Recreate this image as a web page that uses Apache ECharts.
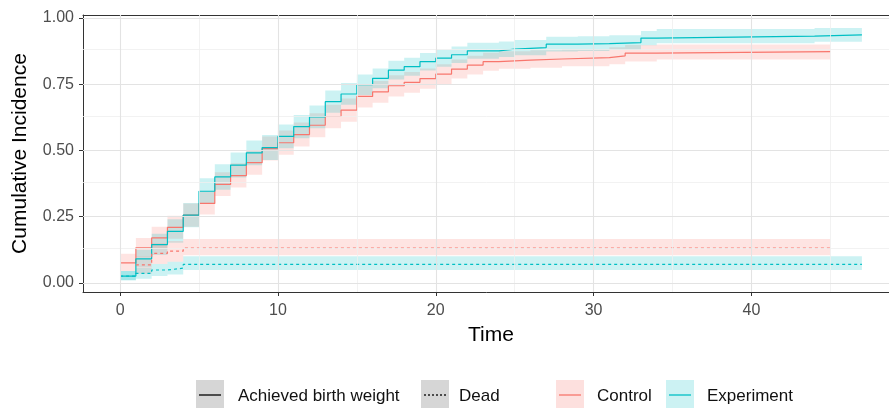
<!DOCTYPE html>
<html>
<head>
<meta charset="utf-8">
<script src="https://cdn.jsdelivr.net/npm/echarts@6/dist/echarts.min.js"></script>
<style>
  html, body { margin: 0; padding: 0; background: #fff; }
  #chart { width: 889px; height: 408px; }
</style>
</head>
<body>
<div id="chart"></div>
<script>
// tick values
var xTicks = [0, 10, 20, 30, 40];
var xMinor = [5, 15, 25, 35, 45];
var yTicks = [0, 0.25, 0.5, 0.75, 1];
var yMinor = [0.125, 0.375, 0.625, 0.875];

// Control, achieved birth weight
var ctrlEnd = 45;
var ctrlAbwTime = [0,1,2,3,4,5,6,7,8,9,10,11,12,13,14,15,16,17,18,19,20,21,22,23,24,26,28,31,32,34];
var ctrlAbwEst  = [0.076,0.133,0.170,0.210,0.256,0.300,0.372,0.405,0.454,0.507,0.529,0.560,0.595,0.628,0.652,0.704,0.721,0.744,0.757,0.771,0.788,0.807,0.822,0.835,0.841,0.845,0.850,0.857,0.867,0.873];
var ctrlAbwLow  = [0.045,0.098,0.130,0.167,0.212,0.258,0.328,0.360,0.408,0.462,0.484,0.515,0.550,0.584,0.608,0.662,0.680,0.704,0.718,0.733,0.751,0.771,0.787,0.801,0.808,0.812,0.818,0.825,0.836,0.843];
var ctrlAbwHigh = [0.110,0.170,0.212,0.254,0.300,0.345,0.418,0.452,0.500,0.553,0.575,0.605,0.640,0.672,0.696,0.746,0.762,0.784,0.796,0.809,0.825,0.843,0.857,0.869,0.874,0.878,0.882,0.889,0.898,0.900];

// Experiment, achieved birth weight
var expEnd = 47;
var expAbwTime = [0,1,2,3,4,5,6,7,8,9,10,11,12,13,14,15,16,17,18,19,20,21,22,24,25,27,29,31,33,34,44];
var expAbwEst  = [0.026,0.091,0.145,0.195,0.256,0.346,0.400,0.445,0.491,0.511,0.553,0.590,0.627,0.684,0.713,0.748,0.772,0.803,0.816,0.835,0.848,0.861,0.876,0.882,0.888,0.901,0.903,0.907,0.924,0.931,0.936];
var expAbwLow  = [0.010,0.060,0.106,0.152,0.210,0.300,0.352,0.398,0.444,0.464,0.508,0.546,0.584,0.642,0.672,0.709,0.735,0.768,0.782,0.802,0.816,0.830,0.846,0.853,0.859,0.873,0.875,0.879,0.897,0.904,0.910];
var expAbwHigh = [0.045,0.125,0.186,0.240,0.302,0.395,0.448,0.492,0.538,0.558,0.598,0.634,0.670,0.726,0.754,0.787,0.809,0.838,0.850,0.868,0.880,0.892,0.906,0.911,0.917,0.929,0.931,0.935,0.951,0.958,0.962];

// Dead
var ctrlDeadTime = [1, 2, 3, 4];
var ctrlDeadEst  = [0.068, 0.112, 0.120, 0.132];
var ctrlDeadLow  = [0.035, 0.072, 0.080, 0.105];
var ctrlDeadHigh = [0.100, 0.150, 0.158, 0.166];

var expDeadTime = [0, 1, 2, 3, 4];
var expDeadEst  = [0.026, 0.036, 0.049, 0.056, 0.070];
var expDeadLow  = [0.010, 0.016, 0.026, 0.032, 0.049];
var expDeadHigh = [0.045, 0.058, 0.072, 0.080, 0.101];

var RED = '#F8766D', CYAN = '#00BFC4';
var FONT = '"Liberation Sans", Arial, sans-serif';

function stepData(times, vals, end) {
    var d = times.map(function (t, i) { return [t, vals[i]]; });
    d.push([end, vals[vals.length - 1]]);
    return d;
}

function bandSeries(times, low, high, end, fill) {
    return {
        type: 'custom',
        silent: true,
        z: 1,
        data: [[times[0], low[0]]],
        renderItem: function (params, api) {
            var pts = [];
            for (var i = 0; i < times.length; i++) {
                var next = i < times.length - 1 ? times[i + 1] : end;
                pts.push(api.coord([times[i], high[i]]), api.coord([next, high[i]]));
            }
            for (var j = times.length - 1; j >= 0; j--) {
                var nx = j < times.length - 1 ? times[j + 1] : end;
                pts.push(api.coord([nx, low[j]]), api.coord([times[j], low[j]]));
            }
            return { type: 'polygon', shape: { points: pts }, style: { fill: fill } };
        }
    };
}

function lineSeries(times, vals, end, color, dashed) {
    return {
        type: 'line',
        step: 'end',
        symbol: 'none',
        silent: true,
        z: 3,
        data: stepData(times, vals, end),
        lineStyle: { color: color, width: 1.2, type: dashed ? [3, 3] : 'solid' }
    };
}

function gridLines() {
    var major = { color: '#e3e3e3', width: 1.1, type: 'solid' };
    var minor = { color: '#efefef', width: 0.8, type: 'solid' };
    var d = [];
    xMinor.forEach(function (v) { d.push({ xAxis: v, lineStyle: minor }); });
    yMinor.forEach(function (v) { d.push({ yAxis: v, lineStyle: minor }); });
    xTicks.forEach(function (v) { d.push({ xAxis: v, lineStyle: major }); });
    yTicks.forEach(function (v) { d.push({ yAxis: v, lineStyle: major }); });
    return d;
}

function legendKey(x, fill, lineColor, dashed) {
    return [
        { type: 'rect', shape: { x: x, y: 380, width: 28, height: 28 }, style: { fill: fill } },
        { type: 'line', shape: { x1: x + 3, y1: 395, x2: x + 25, y2: 395 },
          style: { stroke: lineColor, lineWidth: 1.3, lineDash: dashed ? [2, 2] : null } }
    ];
}

function legendText(x, text) {
    return { type: 'text', x: x, y: 396,
             style: { text: text, fill: '#111', fontSize: 17, fontFamily: FONT, verticalAlign: 'middle' } };
}

var chart = echarts.init(document.getElementById('chart'));

var option = {
    animation: false,
    backgroundColor: '#fff',
    grid: { left: 83, top: 15, width: 816, height: 277, outerBoundsMode: 'none' },
    xAxis: [{
        type: 'value', min: -2.35, max: 49.35,
        name: 'Time', nameLocation: 'middle', nameGap: 33,
        nameTextStyle: { fontSize: 21, color: '#000', fontFamily: FONT },
        axisLine: { show: true, onZero: false, lineStyle: { color: '#333' } },
        axisTick: { show: true, length: 4, customValues: xTicks, lineStyle: { color: '#333' } },
        axisLabel: { customValues: xTicks, color: '#4d4d4d', fontSize: 16, fontFamily: FONT, margin: 11 },
        splitLine: { show: false }
    }, {
        // top panel border
        type: 'value', position: 'top', min: -2.35, max: 49.35,
        axisLine: { show: true, onZero: false, lineStyle: { color: '#333' } },
        axisTick: { show: false }, axisLabel: { show: false }, splitLine: { show: false }
    }],
    yAxis: {
        type: 'value', min: -0.034, max: 1.011,
        name: 'Cumulative Incidence', nameLocation: 'middle', nameGap: 52,
        nameTextStyle: { fontSize: 21, color: '#000', fontFamily: FONT },
        axisLine: { show: true, onZero: false, lineStyle: { color: '#333' } },
        axisTick: { show: true, length: 4, customValues: yTicks, lineStyle: { color: '#333' } },
        axisLabel: { customValues: yTicks, color: '#4d4d4d', fontSize: 16, fontFamily: FONT, margin: 9,
                     formatter: function (v) { return v.toFixed(2); } },
        splitLine: { show: false }
    },
    series: [
        {
            type: 'line', z: 0, silent: true, symbol: 'none',
            data: [[0, 0]], lineStyle: { opacity: 0 },
            markLine: { silent: true, symbol: ['none', 'none'], label: { show: false },
                        emphasis: { disabled: true }, animation: false, data: gridLines() }
        },
        bandSeries(ctrlAbwTime, ctrlAbwLow, ctrlAbwHigh, ctrlEnd, 'rgba(248,118,109,0.2)'),
        bandSeries(expAbwTime, expAbwLow, expAbwHigh, expEnd, 'rgba(0,191,196,0.2)'),
        bandSeries(ctrlDeadTime, ctrlDeadLow, ctrlDeadHigh, ctrlEnd, 'rgba(248,118,109,0.2)'),
        bandSeries(expDeadTime, expDeadLow, expDeadHigh, expEnd, 'rgba(0,191,196,0.2)'),
        lineSeries(ctrlAbwTime, ctrlAbwEst, ctrlEnd, RED, false),
        lineSeries(expAbwTime, expAbwEst, expEnd, CYAN, false),
        lineSeries(ctrlDeadTime, ctrlDeadEst, ctrlEnd, RED, true),
        lineSeries(expDeadTime, expDeadEst, expEnd, CYAN, true)
    ],
    graphic: [].concat(
        legendKey(196, '#d6d6d6', '#000', false), [legendText(238, 'Achieved birth weight')],
        legendKey(421, '#d6d6d6', '#000', true), [legendText(459, 'Dead')],
        legendKey(556, '#fde0de', RED, false), [legendText(597, 'Control')],
        legendKey(666, '#ccf2f3', CYAN, false), [legendText(707, 'Experiment')]
    )
};

chart.setOption(option);
</script>
</body>
</html>
